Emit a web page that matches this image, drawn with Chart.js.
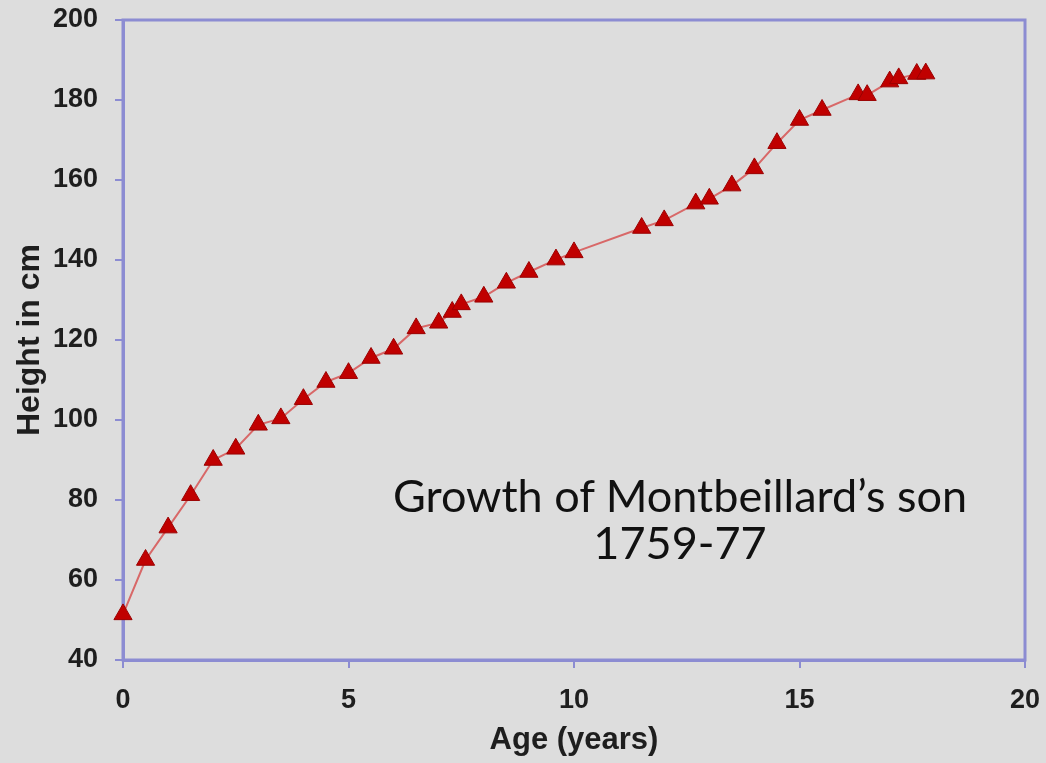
<!DOCTYPE html>
<html>
<head>
<meta charset="utf-8">
<script src="https://cdn.jsdelivr.net/npm/chart.js@4.4.1/dist/chart.umd.min.js"></script>
<style>
  body { margin: 0; background: #dddddd; }
  #wrap { position: relative; width: 1046px; height: 763px; }
  #note {
    position: absolute; left: 330px; top: 472px; width: 700px;
    text-align: center; font-family: Lato, "Open Sans", sans-serif;
    font-size: 45px; line-height: 47px; color: #111;
  }
</style>
</head>
<body>
<div id="wrap">
  <canvas id="growth" width="1046" height="763"></canvas>
  <div id="note">Growth of Montbeillard’s son<br>1759-77</div>
</div>
<script>
// Montbeillard's son, age in years and height in cm
const ages = [0, 0.5, 1, 1.5, 2, 2.5, 3, 3.5, 4, 4.5, 5, 5.5, 6, 6.5, 7, 7.3, 7.5, 8, 8.5, 9, 9.6, 10,
              11.5, 12, 12.7, 13, 13.5, 14, 14.5, 15, 15.5, 16.3, 16.5, 17, 17.2, 17.6, 17.8];
const heights = [51.4, 65.0, 73.1, 81.2, 90.0, 92.8, 98.8, 100.4, 105.2, 109.5, 111.7, 115.5, 117.8, 122.9,
                 124.3, 127.0, 128.9, 130.8, 134.3, 137.0, 140.1, 141.9, 148.0, 149.9, 154.1, 155.3, 158.6,
                 162.9, 169.2, 175.0, 177.5, 181.4, 181.2, 184.6, 185.4, 186.5, 186.6];
const xTicks = [0, 5, 10, 15, 20];
const yTicks = [40, 60, 80, 100, 120, 140, 160, 180, 200];

const axisColor = '#8c8cd2';
const tickFont = { family: '"Liberation Sans", Arial, sans-serif', size: 27, weight: 'bold' };
const titleFont = { family: '"Liberation Sans", Arial, sans-serif', size: 31, weight: 'bold' };

const points = ages.map((a, i) => ({ x: a, y: heights[i] }));

// draws the top and right edges of the plot frame
const frame = {
    id: 'frame',
    beforeDatasetsDraw(chart) {
        const a = chart.chartArea;
        const ctx = chart.ctx;
        ctx.save();
        ctx.strokeStyle = axisColor;
        ctx.lineWidth = 3;
        ctx.strokeRect(a.left, a.top, a.right - a.left, a.bottom - a.top);
        ctx.restore();
    }
};

const ctx = document.getElementById('growth').getContext('2d');
const growth = new Chart(ctx, {
    type: 'scatter',
    data: {
        datasets: [{
            data: points,
            showLine: true,
            clip: false,
            borderColor: '#d86868',
            borderWidth: 2,
            pointStyle: 'triangle',
            pointRadius: 10.5,
            pointBackgroundColor: '#c00000',
            pointBorderColor: '#9a0000',
            pointBorderWidth: 1
        }]
    },
    options: {
        responsive: false,
        animation: false,
        layout: { padding: { top: 20, right: 21, left: 0, bottom: 0 } },
        plugins: { legend: { display: false }, tooltip: { enabled: false } },
        scales: {
            x: {
                type: 'linear',
                min: 0, max: 20,
                afterBuildTicks: s => { s.ticks = xTicks.map(v => ({ value: v })); },
                afterFit: s => { s.height = 103; s.paddingLeft = 0; s.paddingRight = 0; },
                ticks: { font: tickFont, color: '#1e1e1e', padding: 16, maxRotation: 0 },
                grid: { drawOnChartArea: false, drawTicks: true, tickLength: 8, color: axisColor, lineWidth: 2 },
                border: { display: true, color: axisColor, width: 3 },
                title: { display: true, text: 'Age (years)', font: titleFont, color: '#1e1e1e', padding: { top: 0, bottom: 4 } }
            },
            y: {
                type: 'linear',
                min: 40, max: 200,
                afterBuildTicks: s => { s.ticks = yTicks.map(v => ({ value: v })); },
                afterFit: s => { s.width = 123; s.paddingTop = 0; s.paddingBottom = 0; },
                ticks: { font: tickFont, color: '#1e1e1e', padding: 17 },
                grid: { drawOnChartArea: false, drawTicks: true, tickLength: 8, color: axisColor, lineWidth: 2 },
                border: { display: true, color: axisColor, width: 3 },
                title: { display: true, text: 'Height in cm', font: { ...titleFont, size: 32 }, color: '#1e1e1e', padding: { top: 11, bottom: 0 } }
            }
        }
    },
    plugins: [frame]
});
</script>
</body>
</html>
